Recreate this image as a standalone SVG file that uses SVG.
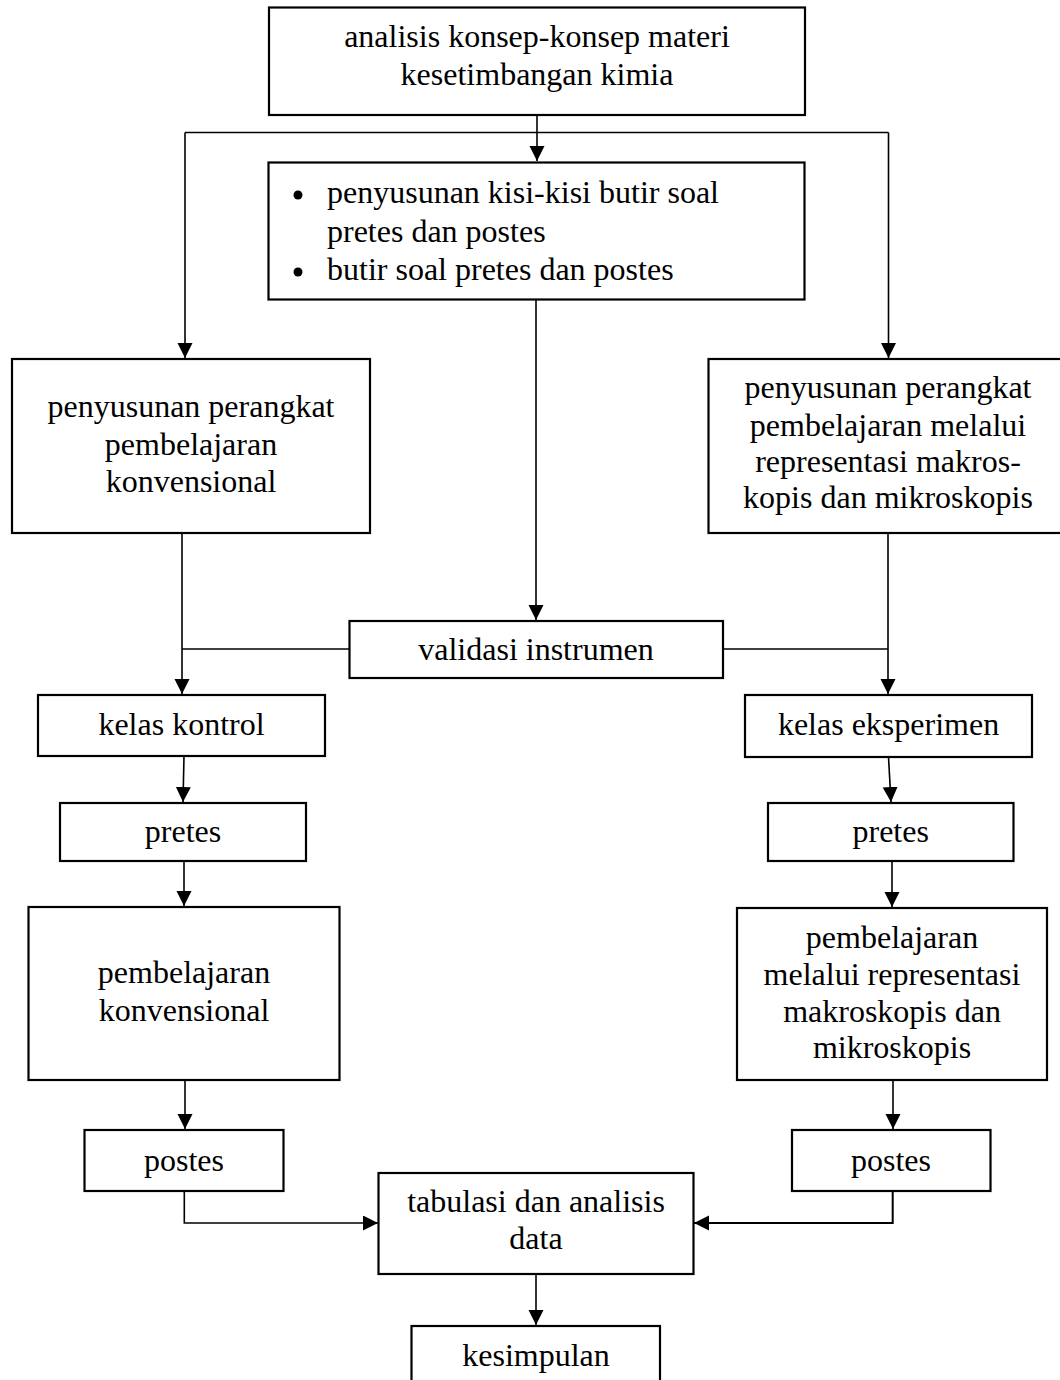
<svg xmlns="http://www.w3.org/2000/svg" width="1060" height="1380" viewBox="0 0 1060 1380">
<style>
.box{fill:#fff;stroke:#000;stroke-width:2.2}
.t{font-family:"Liberation Serif","Times New Roman",serif;font-size:32px;fill:#000;text-anchor:middle}
.tl{font-family:"Liberation Serif","Times New Roman",serif;font-size:32px;fill:#000}
.c{fill:none;stroke:#000;stroke-width:1.6}
</style>
<defs>
<marker id="ah" markerUnits="userSpaceOnUse" markerWidth="16" markerHeight="16" refX="15" refY="7.5" orient="auto">
<path d="M0,0 L15,7.5 L0,15 z" fill="#000"/>
</marker>
</defs>
<rect width="1060" height="1380" fill="#fff"/>
<g id="connectors">
<path class="c" d="M537,115 V161" marker-end="url(#ah)"/>
<path class="c" d="M185,132.5 H888.5"/>
<path class="c" d="M185,132.5 V358" marker-end="url(#ah)"/>
<path class="c" d="M888.5,132.5 V358" marker-end="url(#ah)"/>
<path class="c" d="M536,299 V620" marker-end="url(#ah)"/>
<path class="c" d="M182,533 V694" marker-end="url(#ah)"/>
<path class="c" d="M182,649 H349.5"/>
<path class="c" d="M888,533 V694" marker-end="url(#ah)"/>
<path class="c" d="M723,649 H888"/>
<path class="c" d="M184,756 L183,802" marker-end="url(#ah)"/>
<path class="c" d="M888.5,757 L891,802" marker-end="url(#ah)"/>
<path class="c" d="M184,861 V906" marker-end="url(#ah)"/>
<path class="c" d="M892,861 V907" marker-end="url(#ah)"/>
<path class="c" d="M185,1080 V1129" marker-end="url(#ah)"/>
<path class="c" d="M893,1080 V1129" marker-end="url(#ah)"/>
<path class="c" d="M184.3,1191 V1223 H378" marker-end="url(#ah)"/>
<path class="c" d="M892.7,1191 V1223 H694" marker-end="url(#ah)" style="stroke-width:2"/>
<path class="c" d="M536,1274 V1325" marker-end="url(#ah)"/>
</g>
<g id="n-analisis">
<rect class="box" x="269" y="7.5" width="536" height="107.5"/>
<text class="t" x="537" y="47">analisis konsep-konsep materi</text>
<text class="t" x="537" y="84.5">kesetimbangan kimia</text>
</g>
<g id="n-kisi">
<rect class="box" x="268.5" y="162.5" width="536" height="137"/>
<circle cx="298" cy="195" r="4.5" fill="#000"/>
<circle cx="298" cy="272" r="4.5" fill="#000"/>
<text class="tl" x="327" y="203">penyusunan kisi-kisi butir soal</text>
<text class="tl" x="327" y="241.5">pretes dan postes</text>
<text class="tl" x="327" y="280">butir soal pretes dan postes</text>
</g>
<g id="n-perangkat-konv">
<rect class="box" x="12" y="359" width="358" height="174"/>
<text class="t" x="191" y="417">penyusunan perangkat</text>
<text class="t" x="191" y="454.5">pembelajaran</text>
<text class="t" x="191" y="492">konvensional</text>
</g>
<g id="n-perangkat-rep">
<rect class="box" x="708.5" y="359" width="362" height="174"/>
<text class="t" x="888" y="398">penyusunan perangkat</text>
<text class="t" x="888" y="435.5">pembelajaran melalui</text>
<text class="t" x="888" y="471.5">representasi makros-</text>
<text class="t" x="888" y="508">kopis dan mikroskopis</text>
</g>
<g id="n-validasi">
<rect class="box" x="349.5" y="621" width="373.5" height="57"/>
<text class="t" x="536" y="660">validasi instrumen</text>
</g>
<g id="n-kelas-kontrol">
<rect class="box" x="38" y="695" width="287" height="61"/>
<text class="t" x="181.5" y="735">kelas kontrol</text>
</g>
<g id="n-kelas-eksperimen">
<rect class="box" x="745" y="695" width="287" height="62"/>
<text class="t" x="888.5" y="735">kelas eksperimen</text>
</g>
<g id="n-pretes-l">
<rect class="box" x="60" y="803" width="246" height="58"/>
<text class="t" x="183" y="842">pretes</text>
</g>
<g id="n-pretes-r">
<rect class="box" x="768" y="803" width="245.5" height="58"/>
<text class="t" x="890.7" y="842">pretes</text>
</g>
<g id="n-pemb-konv">
<rect class="box" x="28.5" y="907" width="311" height="173"/>
<text class="t" x="184" y="983">pembelajaran</text>
<text class="t" x="184" y="1021">konvensional</text>
</g>
<g id="n-pemb-rep">
<rect class="box" x="737" y="908" width="310" height="172"/>
<text class="t" x="892" y="948">pembelajaran</text>
<text class="t" x="892" y="985">melalui representasi</text>
<text class="t" x="892" y="1021.5">makroskopis dan</text>
<text class="t" x="892" y="1058">mikroskopis</text>
</g>
<g id="n-postes-l">
<rect class="box" x="84.5" y="1130" width="199" height="61"/>
<text class="t" x="184" y="1171">postes</text>
</g>
<g id="n-postes-r">
<rect class="box" x="792" y="1130" width="198.5" height="61"/>
<text class="t" x="891" y="1171">postes</text>
</g>
<g id="n-tabulasi">
<rect class="box" x="378.5" y="1173" width="315" height="101"/>
<text class="t" x="536" y="1212">tabulasi dan analisis</text>
<text class="t" x="536" y="1249">data</text>
</g>
<g id="n-kesimpulan">
<rect class="box" x="411.5" y="1326" width="248.5" height="70"/>
<text class="t" x="536" y="1366">kesimpulan</text>
</g>
</svg>
